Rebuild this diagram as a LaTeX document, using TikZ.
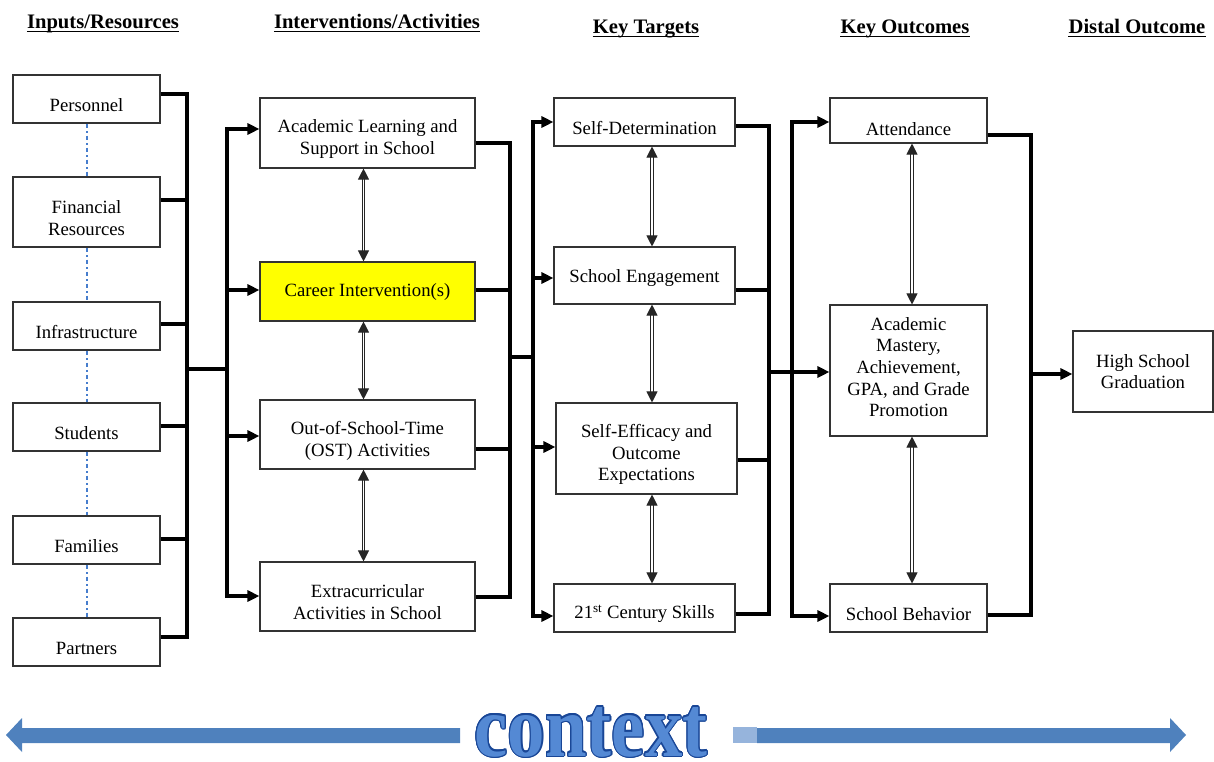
\documentclass[tikz,border=0pt]{standalone}
\usepackage{fontspec}
\setmainfont{Liberation Serif}
\usepackage{contour}
\contourlength{1.3pt}
\usetikzlibrary{arrows.meta,calc}

\definecolor{dashblue}{RGB}{70,125,205}
\definecolor{ctxarrow}{RGB}{79,129,189}
\definecolor{ctxlight}{RGB}{150,180,220}
\definecolor{ctxfill}{RGB}{84,137,212}
\definecolor{ctxline}{RGB}{25,70,150}
\definecolor{hilite}{RGB}{255,255,0}

\begin{document}
\begin{tikzpicture}[x=1pt,y=-1pt,
  box/.style={draw=black!80, line width=1.1pt, fill=white, inner sep=0pt},
  txt/.style={align=center, inner sep=0pt, font=\fontsize{18.7}{21.7}\selectfont},
  hdr/.style={inner sep=0pt, font=\fontsize{20.6}{24}\selectfont\bfseries},
  uline/.style={line width=1.4pt},
  wire/.style={line width=3.2pt},
  arr/.style={wire, -{Triangle[length=12pt,width=11pt]}},
  dbl/.style={draw=black!85, line width=1pt, double=white, double distance=1.5pt,
              {Triangle[length=11pt,width=11pt]}-{Triangle[length=11pt,width=11pt]}},
  dd/.style={draw=dashblue, line width=1.4pt, dash pattern=on 4.5pt off 3pt on 1.5pt off 3pt}
]
\useasboundingbox (0,0) rectangle (1214,761);

% ---- column headings ----
\node[hdr, anchor=base] (h1) at (103,28)  {Inputs/Resources};
\node[hdr, anchor=base] (h2) at (377,28)  {Interventions/Activities};
\node[hdr, anchor=base] (h3) at (646,33)  {Key Targets};
\node[hdr, anchor=base] (h4) at (905,33)  {Key Outcomes};
\node[hdr, anchor=base] (h5) at (1137,33) {Distal Outcome};
\foreach \h in {h1,h2,h3,h4,h5}
  \draw[uline] ([yshift=-3.5pt]\h.base west) -- ([yshift=-3.5pt]\h.base east);

% ---- inputs / resources ----
\node[box, minimum width=147pt, minimum height=48pt, label={[txt,yshift=-6pt]center:{Personnel}}] (per) at (86.5,99) {};
\node[box, minimum width=147pt, minimum height=70pt, label={[txt,yshift=-6pt]center:{Financial\\Resources}}] (fin) at (86.5,212) {};
\node[box, minimum width=147pt, minimum height=48pt, label={[txt,yshift=-6pt]center:{Infrastructure}}] (inf) at (86.5,326) {};
\node[box, minimum width=147pt, minimum height=48pt, label={[txt,yshift=-6pt]center:{Students}}] (stu) at (86.5,427) {};
\node[box, minimum width=147pt, minimum height=48pt, label={[txt,yshift=-6.5pt]center:{Families}}] (fam) at (86.5,540) {};
\node[box, minimum width=147pt, minimum height=48pt, label={[txt,yshift=-6pt]center:{Partners}}] (par) at (86.5,642) {};

% ---- interventions / activities ----
\node[box, minimum width=215pt, minimum height=70pt, label={[txt,yshift=-6pt]center:{Academic Learning and\\Support in School}}] (acad) at (367.5,133) {};
\node[box, fill=hilite, minimum width=215pt, minimum height=59pt, label={[txt,yshift=-0.5pt]center:{Career Intervention(s)}}] (car) at (367.5,291.5) {};
\node[box, minimum width=215pt, minimum height=69pt, label={[txt,yshift=-6.5pt]center:{Out-of-School-Time\\(OST) Activities}}] (ost) at (367.5,434.5) {};
\node[box, minimum width=215pt, minimum height=69pt, label={[txt,yshift=-5.5pt]center:{Extracurricular\\Activities in School}}] (ext) at (367.5,596.5) {};

% ---- key targets ----
\node[box, minimum width=181pt, minimum height=48pt, label={[txt,yshift=-6pt]center:{Self-Determination}}] (sd) at (644.5,122) {};
\node[box, minimum width=181pt, minimum height=57pt, label={[txt,yshift=-2.5pt]center:{School Engagement}}] (se) at (644.5,275.5) {};
\node[box, minimum width=181pt, minimum height=91pt, label={[txt,yshift=-6pt]center:{Self-Efficacy and\\Outcome\\Expectations}}] (sef) at (646.5,448.5) {};
\node[box, minimum width=181pt, minimum height=48pt, label={[txt,yshift=-6pt]center:{21\textsuperscript{st} Century Skills}}] (c21) at (644.5,608) {};

% ---- key outcomes ----
\node[box, minimum width=157pt, minimum height=45pt, label={[txt,yshift=-8.5pt]center:{Attendance}}] (att) at (908.5,120.5) {};
\node[box, minimum width=157pt, minimum height=131pt, label={[txt,yshift=3.5pt]center:{Academic\\Mastery,\\Achievement,\\GPA, and Grade\\Promotion}}] (am) at (908.5,370.5) {};
\node[box, minimum width=157pt, minimum height=48pt, label={[txt,yshift=-6pt]center:{School Behavior}}] (sb) at (908.5,608) {};

% ---- distal outcome ----
\node[box, minimum width=140pt, minimum height=81pt, label={[txt]center:{High School\\Graduation}}] (hsg) at (1143,371.5) {};

% ---- dash-dot links between the resources ----
\draw[dd] ([xshift=0.5pt]per.south) -- ([xshift=0.5pt]fin.north);
\draw[dd] ([xshift=0.5pt]fin.south) -- ([xshift=0.5pt]inf.north);
\draw[dd] ([xshift=0.5pt]inf.south) -- ([xshift=0.5pt]stu.north);
\draw[dd] ([xshift=0.5pt]stu.south) -- ([xshift=0.5pt]fam.north);
\draw[dd] ([xshift=0.5pt]fam.south) -- ([xshift=0.5pt]par.north);

% ---- bus junctions ----
\coordinate (j1) at (187,369);
\coordinate (j2) at (227,369);
\coordinate (j3) at (510,357);
\coordinate (j4) at (533,357);
\coordinate (j5) at (769,372);
\coordinate (j6) at (792,372);
\coordinate (j7) at (1031,374);

% resources -> activities
\draw[wire] ([yshift=5pt]per.east)  -| (j1);
\draw[wire] ([yshift=12pt]fin.east) -| (j1);
\draw[wire] ([yshift=2pt]inf.east)  -| (j1);
\draw[wire] ([yshift=1pt]stu.east)  -| (j1);
\draw[wire] ([yshift=1pt]fam.east)  -| (j1);
\draw[wire] ([yshift=5pt]par.east)  -| (j1);
\draw[wire] (j1) -- (j2);
\draw[arr] (j2) |- ([yshift=4pt]acad.west);
\draw[arr] (j2) |- ([yshift=1.5pt]car.west);
\draw[arr] (j2) |- ([yshift=-1.5pt]ost.west);
\draw[arr] (j2) |- ([yshift=0.5pt]ext.west);

% activities -> key targets
\draw[wire] ([yshift=-10pt]acad.east)  -| (j3);
\draw[wire] ([yshift=1.5pt]car.east)   -| (j3);
\draw[wire] ([yshift=-14.5pt]ost.east) -| (j3);
\draw[wire] ([yshift=-0.5pt]ext.east)  -| (j3);
\draw[wire] (j3) -- (j4);
\draw[arr] (j4) |- (sd.west);
\draw[arr] (j4) |- ([yshift=-2.5pt]se.west);
\draw[arr] (j4) |- ([yshift=1.5pt]sef.west);
\draw[arr] (j4) |- ([yshift=-8pt]c21.west);

% key targets -> key outcomes
\draw[wire] ([yshift=-4pt]sd.east)     -| (j5);
\draw[wire] ([yshift=-14.5pt]se.east)  -| (j5);
\draw[wire] ([yshift=-11.5pt]sef.east) -| (j5);
\draw[wire] ([yshift=-6pt]c21.east)    -| (j5);
\draw[wire] (j5) -- (j6);
\draw[arr] (j6) |- ([yshift=-1.5pt]att.west);
\draw[arr] (j6) |- ([yshift=-1.5pt]am.west);
\draw[arr] (j6) |- ([yshift=-8pt]sb.west);

% key outcomes -> distal outcome
\draw[wire] ([yshift=-14.5pt]att.east) -| (j7);
\draw[wire] ([yshift=-7pt]sb.east)     -| (j7);
\draw[arr] (j7) -- ([yshift=-2.5pt]hsg.west);

% ---- reciprocal links within columns ----
\draw[dbl] ([xshift=-4pt]acad.south) -- ([xshift=-4pt]car.north);
\draw[dbl] ([xshift=-4pt]car.south)  -- ([xshift=-4pt]ost.north);
\draw[dbl] ([xshift=-4pt]ost.south)  -- ([xshift=-4pt]ext.north);
\draw[dbl] ([xshift=7.5pt]sd.south)  -- ([xshift=7.5pt]se.north);
\draw[dbl] ([xshift=7.5pt]se.south)  -- ([xshift=5.5pt]sef.north);
\draw[dbl] ([xshift=5.5pt]sef.south) -- ([xshift=7.5pt]c21.north);
\draw[dbl] ([xshift=3.5pt]att.south) -- ([xshift=3.5pt]am.north);
\draw[dbl] ([xshift=3.5pt]am.south)  -- ([xshift=3.5pt]sb.north);

% ---- context band ----
\fill[ctxarrow] (6,735) -- (22,718) -- (22,728) -- (460,728) -- (460,743)
  -- (22,743) -- (22,752) -- cycle;
\fill[ctxlight] (733,727) rectangle (757,743);
\fill[ctxarrow] (757,728) -- (1170,728) -- (1170,718) -- (1186,735)
  -- (1170,752) -- (1170,743) -- (757,743) -- cycle;
\node[anchor=base, inner sep=0pt, font=\fontsize{87}{87}\selectfont\bfseries] (ctx) at (591,756)
  {\scalebox{0.86}[1]{\color{ctxfill}\contour{ctxline}{context}}};
\end{tikzpicture}
\end{document}
